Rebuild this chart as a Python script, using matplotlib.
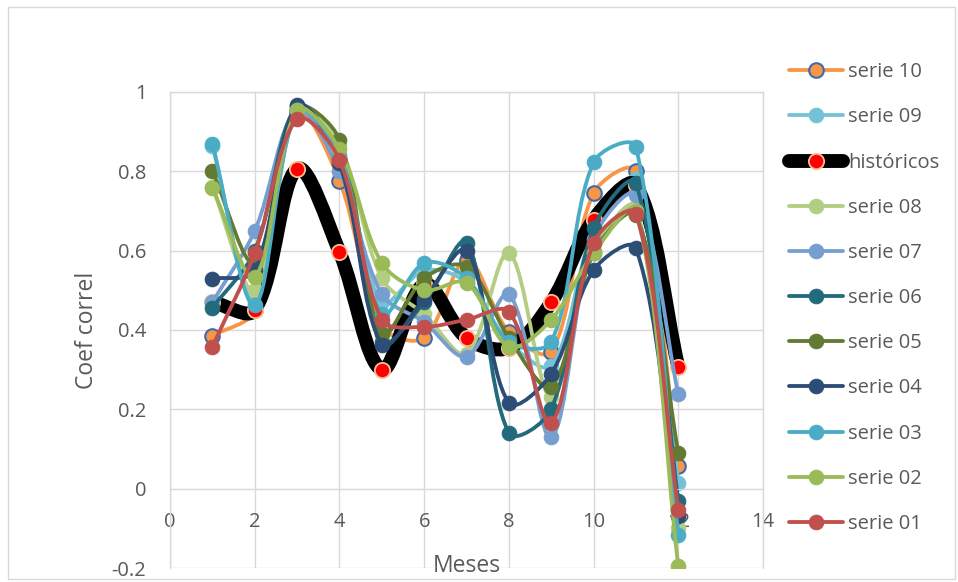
import numpy as np
import matplotlib.pyplot as plt
from matplotlib.path import Path
from matplotlib.patches import PathPatch, Rectangle
from matplotlib.lines import Line2D

plt.rcParams['font.family'] = ['Open Sans', 'DejaVu Sans']

meses = np.arange(1, 13)

# valores (coef correl por mes)
serie_10 = [0.385, 0.45, 0.95, 0.776, 0.41, 0.38, 0.577, 0.395, 0.345, 0.745, 0.80, 0.056]
serie_09 = [0.865, 0.47, 0.95, 0.83, 0.47, 0.55, 0.52, 0.37, 0.31, 0.65, 0.78, 0.015]
historicos = [0.47, 0.45, 0.806, 0.597, 0.30, 0.515, 0.38, 0.355, 0.47, 0.678, 0.765, 0.307]
serie_08 = [0.76, 0.50, 0.955, 0.865, 0.53, 0.44, 0.34, 0.594, 0.23, 0.60, 0.71, -0.10]
serie_07 = [0.47, 0.65, 0.955, 0.80, 0.49, 0.42, 0.333, 0.49, 0.13, 0.63, 0.74, 0.238]
serie_06 = [0.456, 0.60, 0.965, 0.83, 0.37, 0.47, 0.62, 0.14, 0.20, 0.657, 0.77, -0.03]
serie_05 = [0.80, 0.57, 0.96, 0.88, 0.39, 0.53, 0.56, 0.38, 0.257, 0.594, 0.69, 0.09]
serie_04 = [0.529, 0.55, 0.967, 0.82, 0.363, 0.479, 0.60, 0.216, 0.29, 0.551, 0.606, -0.07]
serie_03 = [0.869, 0.463, 0.955, 0.84, 0.44, 0.569, 0.53, 0.37, 0.37, 0.823, 0.861, -0.116]
serie_02 = [0.758, 0.534, 0.955, 0.856, 0.569, 0.50, 0.519, 0.358, 0.426, 0.594, 0.70, -0.196]
serie_01 = [0.358, 0.594, 0.932, 0.829, 0.426, 0.408, 0.426, 0.446, 0.166, 0.62, 0.693, -0.053]

nombres = ['serie 10', 'serie 09', 'históricos', 'serie 08', 'serie 07', 'serie 06',
           'serie 05', 'serie 04', 'serie 03', 'serie 02', 'serie 01']
datos = [serie_10, serie_09, historicos, serie_08, serie_07, serie_06,
         serie_05, serie_04, serie_03, serie_02, serie_01]
colores = ['#F79646', '#74C2D6', '#000000', '#B3CE82', '#779ED0', '#236A7C',
           '#627A32', '#2C4D75', '#4BACC6', '#9BBB59', '#C0504D']

fig = plt.figure(figsize=(9.58, 5.82), dpi=100)
ax = fig.add_axes([0.1775, 0.024, 0.619, 0.818])
ax.set_xlim(0, 14)
ax.set_ylim(-0.2, 1)


def curva(x, y):
    # linea suavizada tipo Excel (bezier, tangentes ponderadas por largo de tramo)
    pts = np.column_stack([x, y]).astype(float)
    pix = ax.transData.transform(pts)
    n = len(pts)
    largo = np.hypot(*np.diff(pix, axis=0).T)
    verts = [pts[0]]
    codes = [Path.MOVETO]
    for i in range(n - 1):
        p0 = pts[max(i - 1, 0)]
        p1 = pts[i]
        p2 = pts[i + 1]
        p3 = pts[min(i + 2, n - 1)]
        d01 = largo[i - 1] if i > 0 else 0.0
        d12 = largo[i]
        d23 = largo[i + 1] if i < n - 2 else 0.0
        f1 = 2 * d12 / (d01 + d12)
        f2 = 2 * d12 / (d12 + d23)
        verts += [p1 + (p2 - p0) / 6 * f1, p2 - (p3 - p1) / 6 * f2, p2]
        codes += [Path.CURVE4] * 3
    return Path(verts, codes)


handles = []
for k, (nombre, y, c) in enumerate(zip(nombres, datos, colores)):
    z = 2 + k * 0.1
    if nombre == 'históricos':
        lw, mfc, mec, mew, ms = 10, '#FF0000', '#FAC090', 1.3, 11
    elif nombre == 'serie 10':
        lw, mfc, mec, mew, ms = 2.75, c, '#3D6AAE', 1.5, 10.5
    else:
        lw, mfc, mec, mew, ms = 2.75, c, c, 0.75, 10.5
    ax.add_patch(PathPatch(curva(meses, y), fill=False, edgecolor=c, lw=lw,
                           capstyle='round', joinstyle='round', zorder=z))
    ax.plot(meses, y, linestyle='none', marker='o', ms=ms, mfc=mfc, mec=mec,
            mew=mew, zorder=z + 0.05)
    handles.append(Line2D([], [], color=c, lw=lw, solid_capstyle='round',
                          marker='o', ms=ms, mfc=mfc, mec=mec, mew=mew))

ax.set_xticks(np.arange(0, 15, 2))
ax.set_yticks([-0.2, 0, 0.2, 0.4, 0.6, 0.8, 1])
ax.set_yticklabels(['-0.2', '0', '0.2', '0.4', '0.6', '0.8', '1'])
ax.grid(True, color='#D9D9D9', lw=1.0, zorder=0)
ax.set_axisbelow(True)

for s in ['left', 'right', 'top']:
    ax.spines[s].set_color('#D9D9D9')
    ax.spines[s].set_linewidth(1.0)
ax.spines['bottom'].set_position(('data', 0))
ax.spines['bottom'].set_color('#D9D9D9')

ax.tick_params(axis='both', length=0, labelsize=14.5, labelcolor='#595959')
ax.tick_params(axis='x', pad=17)
ax.tick_params(axis='y', pad=17)

ax.set_xlabel('Meses', fontsize=16.5, color='#595959')
ax.xaxis.set_label_coords(0.5, 0.03)
ax.set_ylabel('Coef correl', fontsize=16.5, color='#595959')
ax.yaxis.set_label_coords(-0.12, 0.5)

leg = fig.legend(handles, nombres, loc='upper left', bbox_to_anchor=(0.8236, 0.893),
                 frameon=False, fontsize=14.5, handlelength=2.7, handletextpad=0.25,
                 labelspacing=1.25, borderpad=0, borderaxespad=0)
for t in leg.get_texts():
    t.set_color('#595959')

fig.patches.append(Rectangle((8 / 958, 3 / 582), 947 / 958, 572 / 582, fill=False,
                             edgecolor='#D9D9D9', lw=1.0, transform=fig.transFigure))

fig.savefig('out.png', dpi=100)
